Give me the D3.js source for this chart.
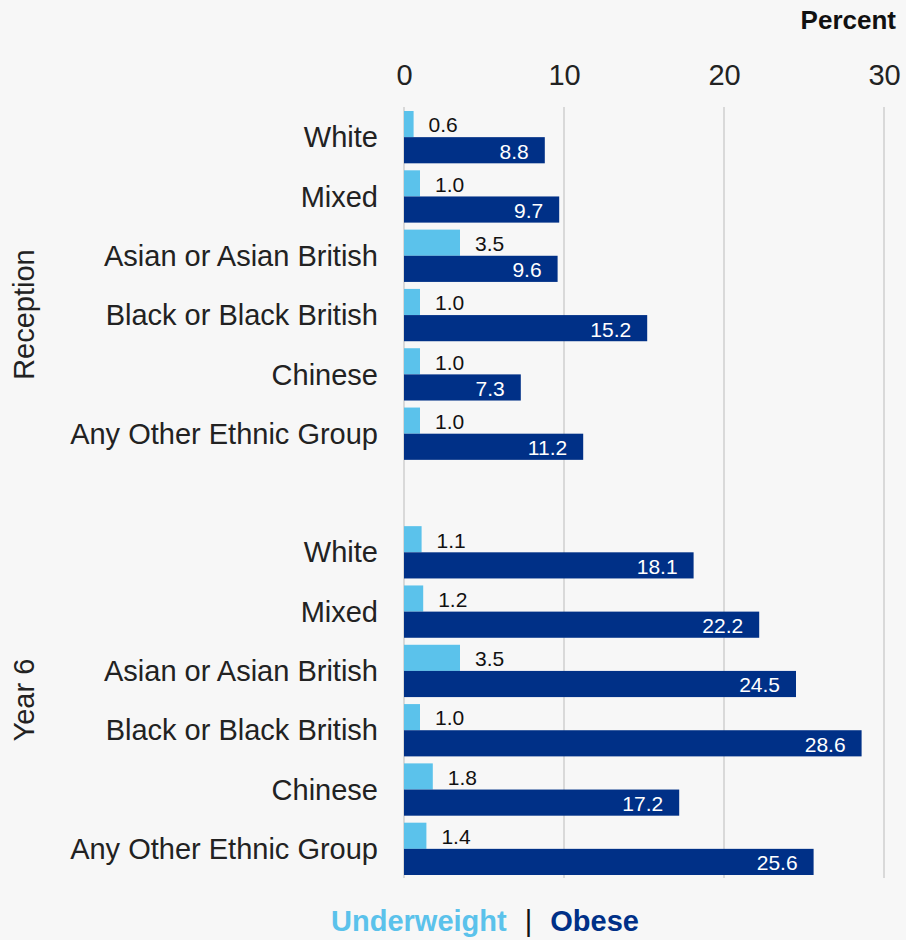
<!DOCTYPE html>
<html><head><meta charset="utf-8">
<script src="https://cdn.jsdelivr.net/npm/d3@7"></script>
<style>
html,body{margin:0;padding:0;background:#f7f7f7;}
text{font-family:"Liberation Sans",Arial,sans-serif;}
</style></head>
<body>
<svg id="c" width="906" height="940"></svg>
<script>
const groups = ["Reception", "Year 6"];
const categories = ["White", "Mixed", "Asian or Asian British", "Black or Black British", "Chinese", "Any Other Ethnic Group"];
const underweight = {
  "Reception": [0.6, 1.0, 3.5, 1.0, 1.0, 1.0],
  "Year 6": [1.1, 1.2, 3.5, 1.0, 1.8, 1.4]
};
const obese = {
  "Reception": [8.8, 9.7, 9.6, 15.2, 7.3, 11.2],
  "Year 6": [18.1, 22.2, 24.5, 28.6, 17.2, 25.6]
};
const xTicks = [0, 10, 20, 30];
const seriesNames = ["Underweight", "Obese"];
const colors = {Underweight: "#5bc2eb", Obese: "#003087"};

const svg = d3.select("#c");
svg.append("rect").attr("width", 906).attr("height", 940).attr("fill", "#f7f7f7");

const slots = [];
groups.forEach((g, gi) => {
  categories.forEach((c, ci) => slots.push(g + "|" + c));
  if (gi < groups.length - 1) slots.push("blank" + gi);
});

const x = d3.scaleLinear().domain([0, 30]).range([404, 884]);
const y = d3.scaleBand().domain(slots).range([107, 878]).paddingInner(0).paddingOuter(0);
const sub = d3.scaleBand().domain(seriesNames).range([4, y.bandwidth() - 3]).padding(0);

svg.append("g").selectAll("line").data(xTicks).join("line")
  .attr("x1", d => x(d)).attr("x2", d => x(d))
  .attr("y1", 107).attr("y2", 878)
  .attr("stroke", "#d9d9d9").attr("stroke-width", 2);

const ax = svg.append("g").attr("transform", "translate(0,75)")
  .call(d3.axisTop(x).tickValues(xTicks).tickSize(0).tickPadding(0).tickFormat(d3.format("d")));
ax.select(".domain").remove();
ax.selectAll("text").attr("font-size", 29).attr("fill", "#222")
  .attr("dy", "0.35em").attr("font-family", "Liberation Sans, Arial, sans-serif");

svg.append("text").attr("x", 896).attr("y", 29).attr("text-anchor", "end")
  .attr("font-size", 26).attr("font-weight", "bold").attr("fill", "#111").text("Percent");

const rows = [];
groups.forEach(g => categories.forEach((c, i) => rows.push({g, c, u: underweight[g][i], o: obese[g][i], key: g + "|" + c})));

const rowG = svg.append("g").selectAll("g").data(rows).join("g")
  .attr("transform", d => `translate(0,${y(d.key)})`);

rowG.append("rect").attr("x", x(0)).attr("y", sub("Underweight"))
  .attr("width", d => x(d.u) - x(0)).attr("height", sub.bandwidth())
  .attr("fill", colors.Underweight);
rowG.append("rect").attr("x", x(0)).attr("y", sub("Obese"))
  .attr("width", d => x(d.o) - x(0)).attr("height", sub.bandwidth())
  .attr("fill", colors.Obese);

rowG.append("text").attr("x", d => x(d.u) + 15)
  .attr("y", sub("Underweight") + sub.bandwidth() / 2 + 1).attr("dy", "0.35em")
  .attr("font-size", 21).attr("fill", "#111").text(d => d3.format(".1f")(d.u));
rowG.append("text").attr("x", d => x(d.o) - 16).attr("text-anchor", "end")
  .attr("y", sub("Obese") + sub.bandwidth() / 2 + 1).attr("dy", "0.35em")
  .attr("font-size", 21).attr("fill", "#fff").text(d => d3.format(".1f")(d.o));

rowG.append("text").attr("x", 378).attr("text-anchor", "end")
  .attr("y", sub("Obese")).attr("dy", "0.35em")
  .attr("font-size", 29).attr("fill", "#222").text(d => d.c);

const gRanges = [
  [y(slots[0]), y(slots[6]) + y.bandwidth()],
  [y(slots[7]), y(slots[12]) + y.bandwidth()]
];
groups.forEach((g, gi) => {
  const cy = (gRanges[gi][0] + gRanges[gi][1]) / 2;
  svg.append("text").attr("transform", `translate(24,${cy}) rotate(-90)`)
    .attr("text-anchor", "middle").attr("dy", "0.35em")
    .attr("font-size", 29).attr("fill", "#222").text(g);
});

// legend
const legG = svg.append("g");
const t1 = legG.append("text").attr("y", 931).attr("font-size", 29).attr("font-weight", "bold")
  .attr("fill", colors.Underweight).text(seriesNames[0]);
const t2 = legG.append("text").attr("y", 931).attr("font-size", 29)
  .attr("fill", "#111").text("|");
const t3 = legG.append("text").attr("y", 931).attr("font-size", 29).attr("font-weight", "bold")
  .attr("fill", colors.Obese).text(seriesNames[1]);
const w1 = t1.node().getComputedTextLength(), w2 = t2.node().getComputedTextLength(), w3 = t3.node().getComputedTextLength();
const gap = 18;
const total = w1 + gap + w2 + gap + w3;
let lx = 485 - total / 2;
t1.attr("x", lx); lx += w1 + gap;
t2.attr("x", lx); lx += w2 + gap;
t3.attr("x", lx);
</script>
</body></html>
